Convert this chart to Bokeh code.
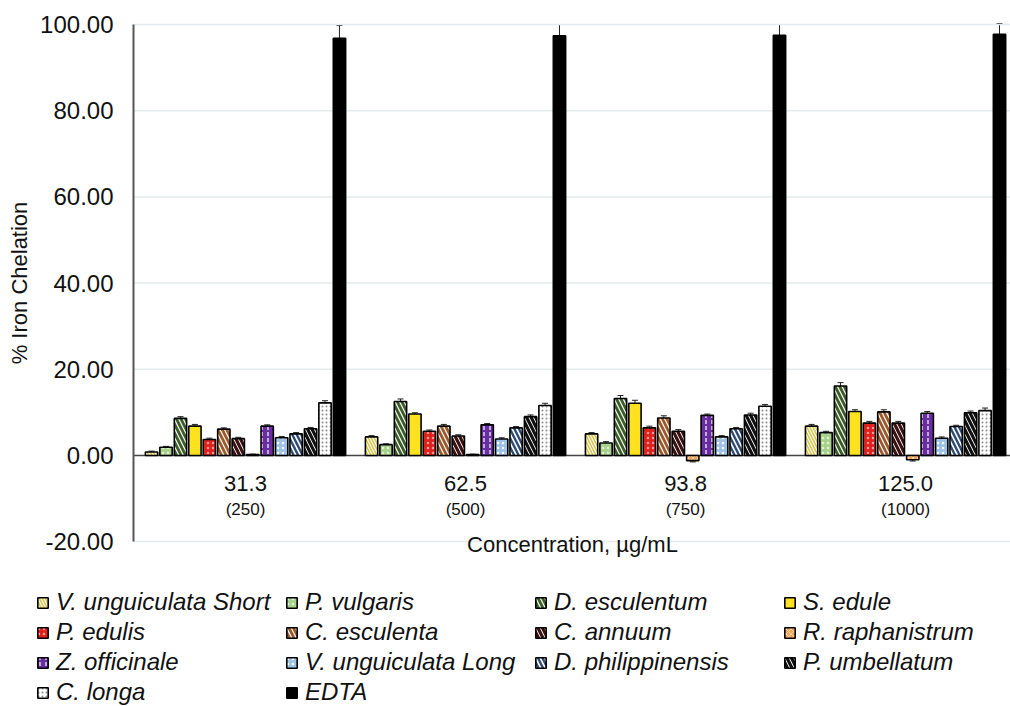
from bokeh.plotting import figure
from bokeh.models import (ColumnDataSource, Range1d, Legend, LegendItem, Label,
                          Whisker, TeeHead, FixedTicker, NumeralTickFormatter)
from bokeh.transform import dodge
from bokeh.core.properties import value
from bokeh.embed import file_html
from bokeh.resources import INLINE

# ---------------- data ----------------
concentrations = ["31.3", "62.5", "93.8", "125.0"]
concentrations_sub = ["(250)", "(500)", "(750)", "(1000)"]
group_index = [0, 1, 2, 3]
y_ticks = [-20, 0, 20, 40, 60, 80, 100]

series_names = ["V. unguiculata Short", "P. vulgaris", "D. esculentum", "S. edule",
                "P. edulis", "C. esculenta", "C. annuum", "R. raphanistrum",
                "Z. officinale", "V. unguiculata Long", "D. philippinensis", "P. umbellatum",
                "C. longa", "EDTA"]

v_unguiculata_short = [0.8, 4.3, 5.0, 6.8]
p_vulgaris = [1.9, 2.5, 2.9, 5.3]
d_esculentum = [8.6, 12.5, 13.2, 16.1]
s_edule = [6.8, 9.6, 12.1, 10.2]
p_edulis = [3.7, 5.6, 6.4, 7.5]
c_esculenta = [6.1, 6.8, 8.7, 10.1]
c_annuum = [3.9, 4.5, 5.6, 7.5]
r_raphanistrum = [0.2, 0.2, -1.2, -1.0]
z_officinale = [6.8, 7.1, 9.3, 9.8]
v_unguiculata_long = [4.1, 3.8, 4.3, 4.0]
d_philippinensis = [5.0, 6.4, 6.2, 6.7]
p_umbellatum = [6.2, 9.0, 9.4, 9.9]
c_longa = [12.2, 11.6, 11.4, 10.4]
edta = [96.8, 97.4, 97.5, 97.7]

err_v_unguiculata_short = [0.2, 0.3, 0.3, 0.4]
err_p_vulgaris = [0.2, 0.2, 0.3, 0.3]
err_d_esculentum = [0.4, 0.6, 0.7, 0.8]
err_s_edule = [0.4, 0.3, 0.7, 0.4]
err_p_edulis = [0.3, 0.3, 0.4, 0.4]
err_c_esculenta = [0.3, 0.4, 0.5, 0.5]
err_c_annuum = [0.3, 0.3, 0.4, 0.4]
err_r_raphanistrum = [0.1, 0.1, 0.3, 0.3]
err_z_officinale = [0.3, 0.3, 0.3, 0.4]
err_v_unguiculata_long = [0.3, 0.3, 0.3, 0.3]
err_d_philippinensis = [0.3, 0.3, 0.3, 0.3]
err_p_umbellatum = [0.3, 0.4, 0.4, 0.4]
err_c_longa = [0.5, 0.5, 0.4, 0.6]
err_edta = [3.0, 2.6, 2.5, 2.5]

values_list = [v_unguiculata_short, p_vulgaris, d_esculentum, s_edule, p_edulis, c_esculenta,
               c_annuum, r_raphanistrum, z_officinale, v_unguiculata_long, d_philippinensis,
               p_umbellatum, c_longa, edta]
errors_list = [err_v_unguiculata_short, err_p_vulgaris, err_d_esculentum, err_s_edule,
               err_p_edulis, err_c_esculenta, err_c_annuum, err_r_raphanistrum,
               err_z_officinale, err_v_unguiculata_long, err_d_philippinensis,
               err_p_umbellatum, err_c_longa, err_edta]

# ---------------- styles ----------------
styles = [
    dict(fill_color="white", hatch_pattern="\\", hatch_color="#d6c64a", hatch_weight=1.6, hatch_scale=6),
    dict(fill_color="#a9d18e", hatch_pattern=".", hatch_color="#e2f0d6", hatch_weight=1, hatch_scale=5),
    dict(fill_color="white", hatch_pattern="\\", hatch_color="#3a5e26", hatch_weight=2.8, hatch_scale=9),
    dict(fill_color="#ffe21f", hatch_pattern=None, hatch_color="#ffe21f", hatch_weight=1, hatch_scale=6),
    dict(fill_color="#e0201b", hatch_pattern=".", hatch_color="#ff9c9c", hatch_weight=1.2, hatch_scale=5),
    dict(fill_color="white", hatch_pattern="\\", hatch_color="#9c5a2c", hatch_weight=2.8, hatch_scale=9),
    dict(fill_color="white", hatch_pattern="\\", hatch_color="#3b1212", hatch_weight=3.2, hatch_scale=9),
    dict(fill_color="#f3a55a", hatch_pattern="x", hatch_color="#ffd7a8", hatch_weight=1, hatch_scale=5),
    dict(fill_color="#6a2d9f", hatch_pattern=":", hatch_color="#ffffff", hatch_weight=1.2, hatch_scale=6),
    dict(fill_color="#9dc3e6", hatch_pattern=".", hatch_color="#ffffff", hatch_weight=1.2, hatch_scale=5),
    dict(fill_color="white", hatch_pattern="\\", hatch_color="#2e4c74", hatch_weight=2.4, hatch_scale=9),
    dict(fill_color="white", hatch_pattern="\\", hatch_color="#111111", hatch_weight=3.2, hatch_scale=9),
    dict(fill_color="white", hatch_pattern=".", hatch_color="#8a8a8a", hatch_weight=1.2, hatch_scale=4),
    dict(fill_color="black", hatch_pattern=None, hatch_color="black", hatch_weight=1, hatch_scale=6),
]

FONT = "Liberation Sans"
X_LEFT, X_RIGHT = -0.509, 3.477     # plot-area extent in group units
Y_BOTTOM, Y_TOP = -20, 100          # plot-area extent in data units

data = {"grp": group_index, "label": concentrations, "sub": concentrations_sub}
keys = []
for i, (vals, errs) in enumerate(zip(values_list, errors_list)):
    k = f"s{i}"
    keys.append(k)
    data[k] = vals
    data[k + "_up"] = [v + e for v, e in zip(vals, errs)]
    data[k + "_lo"] = [v - e for v, e in zip(vals, errs)]
src = ColumnDataSource(data)

# the frame covers the whole page; the y axis sits at a fixed location inside it
p = figure(width=1010, height=706, output_backend="svg", toolbar_location=None,
           x_range=Range1d(-1.1136, 3.477), y_range=Range1d(-58.26, 105.57),
           min_border_left=0, min_border_right=0, min_border_top=0, min_border_bottom=0)
p.outline_line_color = None
p.background_fill_color = "white"
p.border_fill_color = "white"
p.xaxis.visible = False
p.xgrid.visible = False
p.ygrid.visible = False

# horizontal grid lines across the plot area
grid_src = ColumnDataSource(dict(y=[t for t in y_ticks if t != 0]))
p.segment(x0=X_LEFT, x1=X_RIGHT, y0="y", y1="y", source=grid_src,
          line_color="#e4ebee", line_width=1.5)

yax = p.yaxis[0]
yax.fixed_location = X_LEFT
yax.bounds = (Y_BOTTOM, Y_TOP)
yax.ticker = FixedTicker(ticks=y_ticks)
yax.formatter = NumeralTickFormatter(format="0.00")
yax.major_tick_line_color = None
yax.minor_tick_line_color = None
yax.axis_line_color = "#555555"
yax.axis_line_width = 2
yax.major_label_text_font = FONT
yax.major_label_text_font_size = "24px"
yax.major_label_text_color = "#111111"
yax.major_label_standoff = 14
yax.axis_label = "% Iron Chelation"
yax.axis_label_text_font = FONT
yax.axis_label_text_font_size = "22px"
yax.axis_label_text_font_style = "normal"
yax.axis_label_text_color = "#111111"
yax.axis_label_standoff = 5

# zero line
zero_src = ColumnDataSource(dict(y=[0]))
p.segment(x0=X_LEFT, x1=X_RIGHT, y0="y", y1="y", source=zero_src,
          line_color="#444444", line_width=1.5)

slot = 0.0657
bar_w = 0.056
items = []
for j, k in enumerate(keys):
    off = (j - 6.5) * slot
    st = styles[j]
    kw = dict(fill_color=st["fill_color"], line_color="black", line_width=1.6)
    if st["hatch_pattern"]:
        kw.update(hatch_pattern=st["hatch_pattern"], hatch_color=st["hatch_color"],
                  hatch_weight=st["hatch_weight"], hatch_scale=st["hatch_scale"])
    r = p.vbar(x=dodge("grp", off, range=p.x_range), top=k, bottom=0, width=bar_w,
               source=src, **kw)
    items.append(LegendItem(label=series_names[j], renderers=[r]))
    w = Whisker(base=dodge("grp", off, range=p.x_range), upper=k + "_up", lower=k + "_lo",
                source=src, dimension="height", line_color="#222222", line_width=1,
                upper_head=TeeHead(size=6, line_color="#222222", line_width=1),
                lower_head=TeeHead(size=6, line_color="#222222", line_width=1))
    p.add_layout(w)

p.text(x="grp", y=-6.4, text="label", source=src, text_font=value(FONT), text_font_size="22px",
       text_align="center", text_baseline="middle", text_color="#111111")
p.text(x="grp", y=-12.5, text="sub", source=src, text_font=value(FONT), text_font_size="17px",
       text_align="center", text_baseline="middle", text_color="#111111")
p.add_layout(Label(x=1.5, y=-20.6, text="Concentration,  µg/mL", text_font=FONT,
                   text_font_size="22px", text_align="center", text_baseline="middle",
                   text_color="#111111"))

legend = Legend(items=items, orientation="horizontal", ncols=4, location=(36, 0),
                label_text_font=FONT, label_text_font_style="italic", label_text_font_size="24px",
                label_text_color="#111111",
                glyph_width=13, glyph_height=13, label_standoff=7, label_width=227,
                label_height=24, spacing=2, padding=0, margin=0,
                border_line_color=None, background_fill_alpha=0)
p.add_layout(legend, "center")

open("out.html", "w").write(file_html(p, INLINE))
